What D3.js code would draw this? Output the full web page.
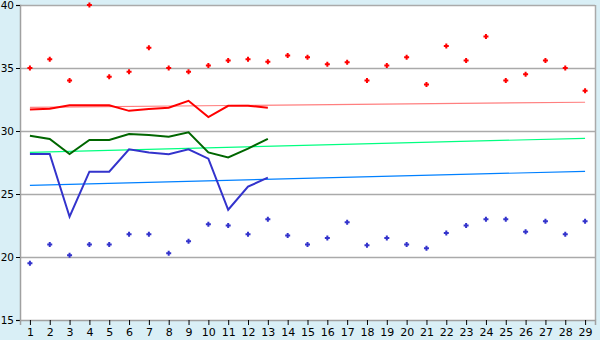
<!DOCTYPE html>
<html><head><meta charset="utf-8">
<script src="https://cdn.jsdelivr.net/npm/d3@7"></script>
<style>html,body{margin:0;padding:0;background:#d9eff6;}svg{display:block;}</style>
</head><body><svg id="c" width="600" height="340"></svg>
<script>
const categories = d3.range(1, 30);
const yTicks = [15, 20, 25, 30, 35, 40];
const redPoints = [35.0,35.7,34.0,40.0,34.3,34.7,36.6,35.0,34.7,35.2,35.6,35.7,35.5,36.0,35.85,35.3,35.45,34.0,35.2,35.85,33.7,36.75,35.6,37.5,34.0,34.5,35.6,35.0,33.2];
const bluePoints = [19.5,21.0,20.13,21.0,21.0,21.8,21.8,20.3,21.25,22.6,22.5,21.8,23.0,21.7,21.0,21.5,22.75,20.93,21.5,21.0,20.7,21.9,22.5,23.0,23.0,22.0,22.83,21.8,22.83];
const redLine = [31.7,31.77,32.04,32.04,32.05,31.6,31.75,31.85,32.4,31.1,32.0,32.0,31.85];
const greenLine = [29.63,29.37,28.17,29.29,29.29,29.76,29.68,29.55,29.9,28.3,27.9,28.6,29.37];
const blueLine = [28.17,28.17,23.2,26.77,26.77,28.55,28.3,28.15,28.55,27.8,23.75,25.58,26.3];
const redTrend = [31.88, 32.28];
const greenTrend = [28.3, 29.42];
const blueTrend = [25.69, 26.8];

const svg = d3.select("#c");
const L = 20, R = 595, T = 5, B = 320;
const x = d3.scalePoint().domain(categories).range([L, R]).padding(0.5);
const y = d3.scaleLinear().domain([15, 40]).range([B, T]);

svg.append("rect").attr("x", L).attr("y", T).attr("width", R - L).attr("height", B - T).attr("fill", "#fff");

// grid
svg.append("g").selectAll("line").data(yTicks.filter(d => d > 15)).join("line")
  .attr("x1", L).attr("x2", R).attr("y1", d => Math.round(y(d)) + 0.5).attr("y2", d => Math.round(y(d)) + 0.5)
  .attr("stroke", "#aaaaaa").attr("stroke-width", 1.5);
svg.append("line").attr("x1", R + 0.5).attr("x2", R + 0.5).attr("y1", T).attr("y2", B).attr("stroke", "#aaaaaa").attr("stroke-width", 1.5);

const gy = svg.append("g").attr("transform", `translate(${L},0)`)
  .call(d3.axisLeft(y).tickValues(yTicks).tickSize(4).tickPadding(2).tickFormat(d3.format("d")));
const gx = svg.append("g").attr("transform", `translate(0,${B})`)
  .call(d3.axisBottom(x).tickSize(5).tickPadding(3));
[gy, gx].forEach(g => {
  g.select(".domain").attr("stroke", "#a0a0a0").attr("stroke-width", 1.5);
  g.selectAll(".tick line").attr("stroke", "#000");
  g.selectAll("text").attr("fill", "#000").attr("font-family", "DejaVu Sans, Verdana, sans-serif");
});
gy.selectAll("text").attr("font-size", 10.5);
gx.selectAll("text").attr("font-size", 11);

function trend(vals, color) {
  svg.append("line").attr("x1", x(1)).attr("x2", x(29)).attr("y1", y(vals[0])).attr("y2", y(vals[1]))
    .attr("stroke", color).attr("stroke-width", 1.2);
}
trend(redTrend, "#ff7f7f");
trend(greenTrend, "#00ff80");
trend(blueTrend, "#0080ff");

const line = d3.line().x((d, i) => x(categories[i])).y(d => y(d));
function series(vals, color) {
  svg.append("path").datum(vals).attr("d", line).attr("fill", "none").attr("stroke", color).attr("stroke-width", 2);
}
series(redLine, "#ff0000");
series(greenLine, "#006600");
series(blueLine, "#3333cc");

const plus = "M-1,-2.5H1V-1H2.5V1H1V2.5H-1V1H-2.5V-1H-1Z";
function markers(vals, color) {
  svg.append("g").selectAll("path").data(vals).join("path")
    .attr("transform", (d, i) => `translate(${x(categories[i])},${y(d)})`)
    .attr("d", plus).attr("fill", color);
}
markers(redPoints, "#ff0000");
markers(bluePoints, "#3333cc");
</script></body></html>
